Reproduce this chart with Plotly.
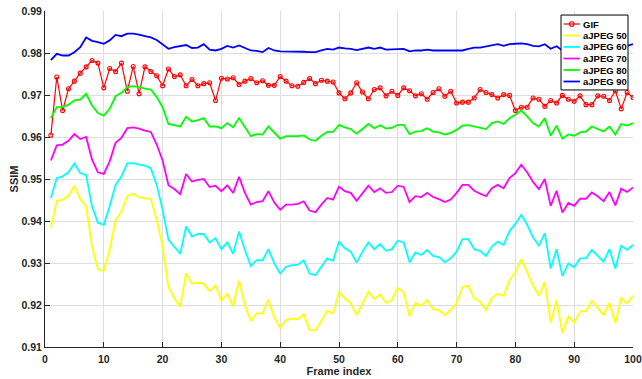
import plotly.graph_objects as go

frames = list(range(1, 101))

gif = [0.9604, 0.9743, 0.9663, 0.9715, 0.9733, 0.9752, 0.9767, 0.9782, 0.9776, 0.9717,
       0.9763, 0.9756, 0.9776, 0.9709, 0.9768, 0.9703, 0.9767, 0.9756, 0.9746, 0.9722,
       0.9762, 0.9744, 0.9748, 0.9722, 0.9737, 0.9722, 0.9727, 0.9729, 0.9687, 0.9740,
       0.9738, 0.9741, 0.9725, 0.9733, 0.9739, 0.9729, 0.9734, 0.9723, 0.9723, 0.9744,
       0.9733, 0.9722, 0.9721, 0.9730, 0.9739, 0.9727, 0.9735, 0.9733, 0.9731, 0.9705,
       0.9691, 0.9705, 0.9729, 0.9707, 0.9691, 0.9713, 0.9717, 0.9698, 0.9709, 0.9699,
       0.9717, 0.9710, 0.9698, 0.9703, 0.9690, 0.9706, 0.9715, 0.9697, 0.9709, 0.9681,
       0.9683, 0.9683, 0.9693, 0.9713, 0.9706, 0.9701, 0.9693, 0.9701, 0.9699, 0.9663,
       0.9671, 0.9671, 0.9693, 0.9690, 0.9673, 0.9687, 0.9681, 0.9699, 0.9690, 0.9685,
       0.9698, 0.9677, 0.9677, 0.9698, 0.9697, 0.9687, 0.9710, 0.9667, 0.9706, 0.9694]

ajpeg50 = [0.9384, 0.9447, 0.9451, 0.9460, 0.9484, 0.9452, 0.9435, 0.9339, 0.9285, 0.9282,
           0.9331, 0.9401, 0.9423, 0.9459, 0.9465, 0.9457, 0.9454, 0.9453, 0.9403, 0.9339,
           0.9243, 0.9216, 0.9196, 0.9275, 0.9251, 0.9253, 0.9251, 0.9233, 0.9247, 0.9210,
           0.9227, 0.9197, 0.9258, 0.9200, 0.9162, 0.9180, 0.9180, 0.9213, 0.9170, 0.9146,
           0.9164, 0.9168, 0.9166, 0.9178, 0.9141, 0.9140, 0.9162, 0.9186, 0.9180, 0.9231,
           0.9216, 0.9204, 0.9176, 0.9202, 0.9231, 0.9214, 0.9225, 0.9205, 0.9212, 0.9241,
           0.9230, 0.9174, 0.9205, 0.9198, 0.9212, 0.9190, 0.9188, 0.9176, 0.9188, 0.9204,
           0.9243, 0.9245, 0.9216, 0.9208, 0.9188, 0.9217, 0.9227, 0.9222, 0.9259, 0.9277,
           0.9309, 0.9279, 0.9246, 0.9222, 0.9255, 0.9158, 0.9212, 0.9133, 0.9173, 0.9158,
           0.9185, 0.9185, 0.9210, 0.9193, 0.9176, 0.9205, 0.9157, 0.9217, 0.9204, 0.9222]

ajpeg60 = [0.9455, 0.9502, 0.9506, 0.9516, 0.9537, 0.9514, 0.9509, 0.9435, 0.9396, 0.9391,
           0.9435, 0.9486, 0.9506, 0.9537, 0.9538, 0.9534, 0.9532, 0.9526, 0.9486, 0.9427,
           0.9355, 0.9339, 0.9322, 0.9387, 0.9363, 0.9369, 0.9369, 0.9349, 0.9359, 0.9333,
           0.9349, 0.9322, 0.9375, 0.9331, 0.9293, 0.9307, 0.9306, 0.9333, 0.9299, 0.9275,
           0.9291, 0.9295, 0.9296, 0.9306, 0.9275, 0.9271, 0.9291, 0.9311, 0.9305, 0.9351,
           0.9335, 0.9327, 0.9301, 0.9327, 0.9349, 0.9333, 0.9345, 0.9329, 0.9333, 0.9353,
           0.9349, 0.9302, 0.9325, 0.9319, 0.9331, 0.9317, 0.9314, 0.9302, 0.9311, 0.9327,
           0.9357, 0.9357, 0.9333, 0.9329, 0.9317, 0.9339, 0.9351, 0.9343, 0.9376, 0.9393,
           0.9415, 0.9391, 0.9361, 0.9341, 0.9371, 0.9287, 0.9333, 0.9269, 0.9299, 0.9290,
           0.9311, 0.9311, 0.9331, 0.9317, 0.9303, 0.9333, 0.9287, 0.9341, 0.9331, 0.9343]

ajpeg70 = [0.9544, 0.9580, 0.9582, 0.9591, 0.9607, 0.9595, 0.9600, 0.9546, 0.9516, 0.9512,
           0.9542, 0.9586, 0.9598, 0.9621, 0.9623, 0.9620, 0.9615, 0.9612, 0.9582, 0.9544,
           0.9485, 0.9476, 0.9464, 0.9512, 0.9494, 0.9498, 0.9500, 0.9481, 0.9484, 0.9471,
           0.9485, 0.9467, 0.9505, 0.9467, 0.9439, 0.9445, 0.9447, 0.9471, 0.9444, 0.9427,
           0.9439, 0.9439, 0.9441, 0.9447, 0.9425, 0.9421, 0.9439, 0.9455, 0.9451, 0.9482,
           0.9471, 0.9467, 0.9448, 0.9467, 0.9484, 0.9469, 0.9478, 0.9467, 0.9469, 0.9484,
           0.9481, 0.9445, 0.9459, 0.9457, 0.9467, 0.9457, 0.9452, 0.9445, 0.9451, 0.9467,
           0.9486, 0.9486, 0.9472, 0.9465, 0.9459, 0.9478, 0.9486, 0.9478, 0.9502, 0.9514,
           0.9534, 0.9516, 0.9493, 0.9476, 0.9500, 0.9436, 0.9472, 0.9420, 0.9443, 0.9436,
           0.9453, 0.9453, 0.9468, 0.9459, 0.9447, 0.9469, 0.9437, 0.9477, 0.9469, 0.9480]

ajpeg80 = [0.9645, 0.9671, 0.9671, 0.9677, 0.9687, 0.9689, 0.9703, 0.9675, 0.9657, 0.9651,
           0.9667, 0.9697, 0.9705, 0.9719, 0.9721, 0.9719, 0.9715, 0.9713, 0.9695, 0.9671,
           0.9631, 0.9628, 0.9625, 0.9648, 0.9637, 0.9640, 0.9645, 0.9625, 0.9625, 0.9621,
           0.9633, 0.9623, 0.9645, 0.9624, 0.9602, 0.9607, 0.9606, 0.9625, 0.9610, 0.9596,
           0.9602, 0.9602, 0.9602, 0.9604, 0.9594, 0.9591, 0.9603, 0.9612, 0.9612, 0.9629,
           0.9623, 0.9619, 0.9608, 0.9619, 0.9631, 0.9621, 0.9628, 0.9620, 0.9622, 0.9629,
           0.9629, 0.9607, 0.9613, 0.9614, 0.9621, 0.9613, 0.9611, 0.9606, 0.9610, 0.9617,
           0.9627, 0.9628, 0.9625, 0.9621, 0.9619, 0.9633, 0.9637, 0.9631, 0.9645, 0.9653,
           0.9663, 0.9649, 0.9633, 0.9625, 0.9645, 0.9603, 0.9627, 0.9596, 0.9606, 0.9603,
           0.9611, 0.9613, 0.9625, 0.9619, 0.9613, 0.9625, 0.9606, 0.9631, 0.9627, 0.9633]

ajpeg90 = [0.9783, 0.9798, 0.9794, 0.9794, 0.9802, 0.9814, 0.9837, 0.9829, 0.9826, 0.9822,
           0.9830, 0.9843, 0.9840, 0.9846, 0.9846, 0.9844, 0.9840, 0.9837, 0.9831, 0.9821,
           0.9810, 0.9814, 0.9817, 0.9819, 0.9812, 0.9813, 0.9821, 0.9808, 0.9806, 0.9810,
           0.9817, 0.9813, 0.9818, 0.9812, 0.9806, 0.9805, 0.9802, 0.9812, 0.9806, 0.9804,
           0.9804, 0.9804, 0.9803, 0.9803, 0.9802, 0.9802, 0.9806, 0.9810, 0.9808, 0.9813,
           0.9811, 0.9810, 0.9807, 0.9810, 0.9813, 0.9810, 0.9813, 0.9808, 0.9809, 0.9809,
           0.9810, 0.9804, 0.9806, 0.9806, 0.9808, 0.9806, 0.9806, 0.9805, 0.9806, 0.9805,
           0.9806, 0.9810, 0.9813, 0.9813, 0.9816, 0.9818, 0.9821, 0.9817, 0.9821, 0.9822,
           0.9823, 0.9821, 0.9817, 0.9816, 0.9821, 0.9810, 0.9816, 0.9806, 0.9812, 0.9815,
           0.9813, 0.9816, 0.9818, 0.9815, 0.9817, 0.9819, 0.9816, 0.9818, 0.9817, 0.9821]

series_names = ["GIF", "aJPEG 50", "aJPEG 60", "aJPEG 70", "aJPEG 80", "aJPEG 90"]
series_values = [gif, ajpeg50, ajpeg60, ajpeg70, ajpeg80, ajpeg90]
series_colors = ["#ff0000", "#ffff00", "#00ffff", "#ff00ff", "#00ff00", "#0000ff"]

x_ticks = [0, 10, 20, 30, 40, 50, 60, 70, 80, 90, 100]
y_ticks = [0.91, 0.92, 0.93, 0.94, 0.95, 0.96, 0.97, 0.98, 0.99]
y_tick_labels = ["0.91", "0.92", "0.93", "0.94", "0.95", "0.96", "0.97", "0.98", "0.99"]

FONT = "Liberation Sans, Arial, sans-serif"
DARK = "#262626"

fig = go.Figure()
for name, vals, col in zip(series_names, series_values, series_colors):
    if name == "GIF":
        fig.add_trace(go.Scatter(
            x=frames, y=vals, name=name, mode="lines+markers",
            line=dict(color=col, width=1.2),
            marker=dict(symbol="circle-open", size=4, color=col, line=dict(width=1.1, color=col)),
            showlegend=False))
    else:
        fig.add_trace(go.Scatter(
            x=frames, y=vals, name=name, mode="lines",
            line=dict(color=col, width=1.8), showlegend=False))

# Compact MATLAB-style legend box (paper coordinates)
shapes = [dict(type="rect", xref="paper", yref="paper",
               x0=0.8776, x1=0.9915, y0=0.765, y1=0.988,
               line=dict(color="black", width=1), fillcolor="white", layer="above")]
annotations = []
row_y = [0.9613, 0.9271, 0.8929, 0.8586, 0.8244, 0.7902]
for name, col, yy in zip(series_names, series_colors, row_y):
    shapes.append(dict(type="line", xref="paper", yref="paper",
                       x0=0.8818, x1=0.9099, y0=yy, y1=yy,
                       line=dict(color=col, width=1.8 if name != "GIF" else 1.2), layer="above"))
    if name == "GIF":
        r_x = 2.3 / 588
        r_y = 2.3 / 336
        shapes.append(dict(type="circle", xref="paper", yref="paper",
                           x0=0.8958 - r_x, x1=0.8958 + r_x, y0=yy - r_y, y1=yy + r_y,
                           line=dict(color=col, width=1.1), layer="above"))
    annotations.append(dict(xref="paper", yref="paper", x=0.9110, y=yy,
                            xanchor="left", yanchor="middle", text=name, showarrow=False,
                            font=dict(family=FONT, size=9.5, color="black", weight="bold")))

fig.update_layout(
    width=642, height=379,
    margin=dict(l=45, r=9, t=11, b=32, autoexpand=False),
    paper_bgcolor="white", plot_bgcolor="white",
    font=dict(family=FONT, size=10.5, color=DARK, weight="bold"),
    shapes=shapes, annotations=annotations,
    showlegend=False,
)
fig.update_xaxes(
    range=[0, 100], tickmode="array", tickvals=x_ticks,
    ticks="inside", ticklen=5, tickcolor=DARK,
    showline=True, linecolor=DARK, linewidth=1, mirror=False,
    showgrid=True, gridcolor="#dedede", gridwidth=1, zeroline=False,
    automargin=False, ticklabeloverflow="allow", ticklabelstandoff=2,
    tickfont=dict(family=FONT, size=10.5, color=DARK, weight="bold"),
    title=dict(text="Frame index", standoff=2,
               font=dict(family=FONT, size=11, color=DARK, weight="bold")),
)
fig.update_yaxes(
    range=[0.91, 0.99], tickmode="array", tickvals=y_ticks, ticktext=y_tick_labels,
    ticks="inside", ticklen=5, tickcolor=DARK,
    showline=True, linecolor=DARK, linewidth=1, mirror=False,
    showgrid=True, gridcolor="#dedede", gridwidth=1, zeroline=False,
    automargin=False, ticklabeloverflow="allow",
    tickfont=dict(family=FONT, size=10.5, color=DARK, weight="bold"),
    title=dict(text="SSIM", standoff=0,
               font=dict(family=FONT, size=11, color=DARK, weight="bold")),
)

fig.write_html("out.html")
